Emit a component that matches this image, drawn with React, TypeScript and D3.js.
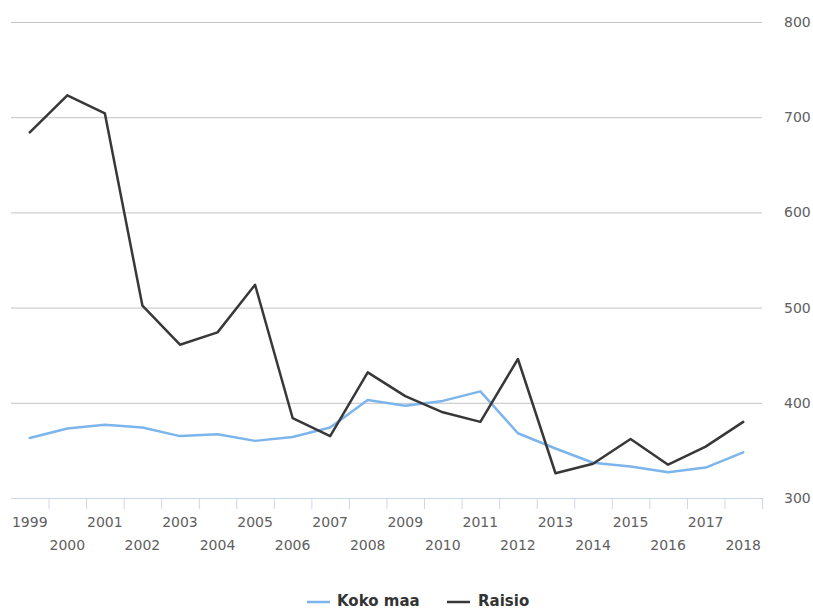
import React from "react";
import * as d3 from "d3";

const years = ["1999","2000","2001","2002","2003","2004","2005","2006","2007","2008","2009","2010","2011","2012","2013","2014","2015","2016","2017","2018"];
const kokoMaa = [363,373,377,374,365,367,360,364,374,403,397,402,412,368,352,337,333,327,332,348];
const raisio = [684,723,704,502,461,474,524,384,365,432,407,390,380,446,326,336,362,335,354,380];
const yTicks = [300,400,500,600,700,800];

const W = 813, H = 610;
const left = 11, right = 762, top = 22, bottom = 498;
const FONT = "'DejaVu Sans', Verdana, sans-serif";

export default function App() {
  const x = d3.scaleBand<string>().domain(years).range([left, right]).padding(0);
  const y = d3.scaleLinear().domain([300, 800]).range([bottom, top]);
  const cx = (yr: string) => (x(yr) as number) + x.bandwidth() / 2;
  const line = (vals: number[]) =>
    d3.line<number>().x((_, i) => cx(years[i])).y(v => y(v))(vals) as string;
  const tickXs = years.map(yr => x(yr) as number).concat([right]);

  return (
    <svg width={W} height={H} style={{ position: "absolute", left: 0, top: 0, background: "#fff" }}>
      {yTicks.map(t => (
        <g key={t}>
          {t !== 300 && <line x1={left} x2={right} y1={y(t) + 0.5} y2={y(t) + 0.5} stroke="#c4c4c4" strokeWidth={1} />}
          <text x={784} y={y(t) + 5} fontFamily={FONT} fontSize={14} fill="#606060">{t}</text>
        </g>
      ))}
      <line x1={left} x2={right} y1={bottom + 0.5} y2={bottom + 0.5} stroke="#ccd6eb" strokeWidth={1} />
      {tickXs.map((tx, i) => (
        i === 0 ? null :
        <line key={i} x1={tx + 0.5} x2={tx + 0.5} y1={bottom} y2={bottom + 11} stroke="#ccd6eb" strokeWidth={1} />
      ))}
      {years.map((yr, i) => (
        <text key={yr} x={cx(yr)} y={i % 2 === 0 ? 527 : 550} textAnchor="middle" fontFamily={FONT} fontSize={14} fill="#606060">{yr}</text>
      ))}
      <path d={line(kokoMaa)} fill="none" stroke="#7cb5ec" strokeWidth={2.5} strokeLinejoin="round" strokeLinecap="round" />
      <path d={line(raisio)} fill="none" stroke="#383838" strokeWidth={2.5} strokeLinejoin="round" strokeLinecap="round" />
      <g fontFamily={FONT} fontSize={15} fontWeight="bold" fill="#333333">
        <line x1={307} x2={330} y1={602} y2={602} stroke="#7cb5ec" strokeWidth={2.5} />
        <text x={337} y={606}>Koko maa</text>
        <line x1={447} x2={470} y1={602} y2={602} stroke="#383838" strokeWidth={2.5} />
        <text x={478} y={606}>Raisio</text>
      </g>
    </svg>
  );
}
